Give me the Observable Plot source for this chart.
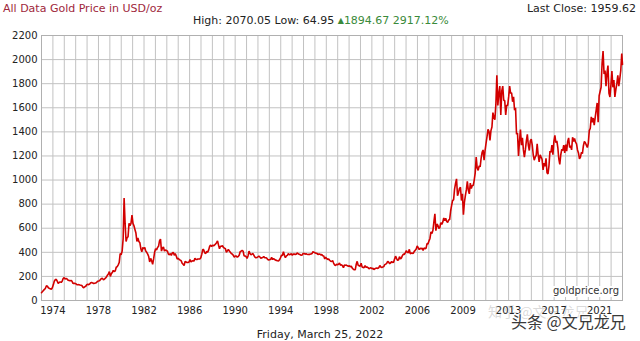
<!DOCTYPE html>
<html><head><meta charset="utf-8">
<script src="https://cdn.jsdelivr.net/npm/d3@7"></script>
<script src="https://cdn.jsdelivr.net/npm/@observablehq/plot@0.6"></script>
<style>
body{margin:0;background:#fff;}
#wrap{position:relative;width:640px;height:341px;overflow:hidden;font-family:"DejaVu Sans",Verdana,sans-serif;background:#fff;}
#wrap svg{position:absolute;left:0;top:0;}
.t{position:absolute;white-space:nowrap;font-size:11px;line-height:11px;}
</style></head><body>
<div id="wrap"></div>
<script>
// ---- data ----
const titleText = "All Data Gold Price in USD/oz";
const highValue = "2070.05";
const lowValue = "64.95";
const changeValue = "1894.67";
const changePct = "2917.12%";
const lastClose = 1959.62;
const lastCloseDate = 2022.23;
const dateText = "Friday, March 25, 2022";
const sourceText = "goldprice.org";
const xLabels = ["1974","1978","1982","1986","1990","1994","1998","2002","2006","2009","2013","2017","2021"];
const yTicks = [0,200,400,600,800,1000,1200,1400,1600,1800,2000,2200];
const startYear = 1973;
// monthly prices from Jan 1973
const prices1970s = [
 65,74,84,92,102,122,118,106,100,98,94,106,
 130,160,172,176,160,142,150,155,150,160,182,190,
 178,182,178,168,167,164,166,160,142,144,142,139,
 132,131,132,128,126,124,112,106,114,118,131,134,
 132,137,148,149,146,141,144,146,150,160,162,164,
 175,182,184,172,178,185,195,210,220,240,200,222,
 232,250,240,246,276,282,296,315,390,380,410,512
];
const prices1980s = [
 850,640,490,520,530,640,620,640,710,640,620,590,
 560,490,520,490,480,430,405,440,430,440,410,400,
 385,365,320,350,330,300,345,400,430,420,440,450,
 495,510,410,435,445,410,420,415,410,385,380,390,
 375,395,400,375,390,370,345,350,340,335,330,310,
 300,290,325,320,315,315,320,340,320,328,330,327,
 350,340,340,345,345,345,355,385,425,420,395,390,
 408,400,420,450,460,447,460,455,460,470,480,495,
 460,430,450,450,455,440,435,430,400,412,425,410,
 400,390,385,375,360,370,370,360,365,375,405,410
];
const prices1990s = [
 415,410,370,370,365,350,370,410,390,380,385,390,
 375,360,355,357,362,368,362,350,355,358,365,355,
 355,352,340,337,338,342,358,340,348,340,335,333,
 330,328,338,355,375,375,405,375,355,370,375,390,
 380,382,390,375,385,385,383,385,395,388,383,382,
 375,378,390,390,385,388,384,382,384,383,387,388,
 405,400,396,392,391,382,385,386,379,381,372,369,
 345,360,348,340,345,334,326,324,332,311,296,289,
 302,297,301,310,293,296,289,273,294,292,294,288,
 285,288,280,286,268,261,255,255,300,325,292,288
];
const prices2000s = [
 284,310,278,275,272,290,276,278,273,264,269,272,
 264,267,257,264,268,270,266,273,290,278,275,278,
 282,298,302,308,326,318,305,312,323,316,318,345,
 368,350,334,336,364,346,354,374,385,383,398,415,
 400,396,425,388,394,393,390,408,416,428,453,438,
 422,435,428,435,416,436,430,433,472,470,495,515,
 570,555,583,654,720,580,635,625,598,605,646,632,
 650,685,662,682,656,648,668,672,743,790,830,835,
 925,972,1010,870,895,930,940,830,885,712,815,870,
 920,990,915,885,975,930,955,955,1000,1060,1190,1100
];
const prices2010s = [
 1080,1118,1110,1180,1230,1250,1165,1245,1305,1360,1420,1405,
 1330,1410,1440,1560,1520,1500,1630,1870,1620,1720,1780,1540,
 1740,1780,1660,1660,1540,1620,1620,1690,1780,1720,1725,1650,
 1690,1580,1600,1380,1390,1200,1320,1420,1290,1350,1250,1190,
 1250,1325,1380,1290,1245,1325,1340,1290,1210,1165,1190,1205,
 1300,1210,1150,1210,1190,1170,1085,1140,1115,1180,1060,1050,
 1120,1240,1230,1290,1210,1320,1370,1310,1325,1270,1175,1130,
 1210,1255,1245,1290,1225,1295,1240,1320,1350,1270,1285,1250,
 1355,1320,1345,1315,1300,1250,1225,1175,1190,1230,1220,1285,
 1320,1310,1290,1270,1305,1410,1430,1525,1480,1515,1455,1520
];
const prices2020s = [
 1580,1640,1480,1700,1735,1770,1970,2070,1880,1910,1780,1890,
 1950,1720,1690,1790,1905,1770,1830,1690,1750,1800,1870,1780,
 1840,1910,2050
];
// ---- build table ----
const monthly = [...prices1970s, ...prices1980s, ...prices1990s, ...prices2000s, ...prices2010s, ...prices2020s];
const series = monthly.map((v, i) => ({t: startYear + i / 12, v}));
series.push({t: lastCloseDate, v: lastClose});
const endYear = lastCloseDate;
const gridCount = 51;
const gridStep = (endYear - startYear) / gridCount;
const gridX = d3.range(gridCount + 1).map(j => startYear + j * gridStep);
const tickX = xLabels.map((_, i) => gridX[1 + 4 * i]);
const labelOf = new Map(tickX.map((p, i) => [p, xLabels[i]]));

const chart = Plot.plot({
  width: 640, height: 341,
  marginLeft: 41, marginRight: 18, marginTop: 35, marginBottom: 41,
  style: {fontFamily: "'DejaVu Sans', Verdana, sans-serif", fontSize: "10px", color: "#222", background: "transparent"},
  x: {type: "linear", domain: [startYear, endYear], ticks: tickX, tickFormat: d => labelOf.get(d), tickSize: 0, tickPadding: 6, label: null},
  y: {domain: [0, 2200], ticks: yTicks, tickFormat: d => String(d), tickSize: 0, tickPadding: 4, label: null},
  marks: [
    Plot.ruleX(gridX, {stroke: "#c2c2c2", strokeWidth: 1}),
    Plot.ruleY(yTicks, {stroke: "#c2c2c2", strokeWidth: 1}),
    Plot.frame({stroke: "#b0b0b0"}),
    Plot.line(series, {x: "t", y: "v", stroke: "#d20000", strokeWidth: 1.6, strokeLinejoin: "miter"})
  ]
});
const wrap = document.getElementById("wrap");
wrap.appendChild(chart);

function addText(html, style) {
  const d = document.createElement("div");
  d.className = "t";
  d.innerHTML = html;
  Object.assign(d.style, style);
  wrap.appendChild(d);
  return d;
}
addText(titleText, {left: "3px", top: "3px", color: "#a0283c"});
addText(`Last Close: ${lastClose.toFixed(2)}`, {right: "4px", top: "3px", color: "#222"});
addText(`High: ${highValue} Low: ${lowValue} <span style="color:#3a8a3a"><span style="font-size:8px;vertical-align:1px">&#9650;</span>${changeValue} ${changePct}</span>`, {left: "193px", top: "15px", color: "#222"});
addText(dateText, {left: "0px", width: "640px", textAlign: "center", top: "329px", color: "#222"});
addText(sourceText, {right: "20px", top: "286px", fontSize: "10px", lineHeight: "10px", padding: "0 1px 1px 2px", background: "#fff", color: "#333"});
addText("知乎 @文兄龙兄", {left: "488px", top: "304px", fontFamily: "'Noto Sans CJK SC', sans-serif", fontSize: "14px", lineHeight: "14px", color: "rgba(150,150,150,0.35)"});
addText("头条 @文兄龙兄", {left: "511px", top: "313px", fontFamily: "'Noto Sans CJK SC', sans-serif", fontSize: "16px", lineHeight: "16px", color: "#3a3a3a", textShadow: "0 0 2px #fff, 0 0 2px #fff, 1px 1px 0 #fff, -1px -1px 0 #fff"});
</script>
</body></html>
